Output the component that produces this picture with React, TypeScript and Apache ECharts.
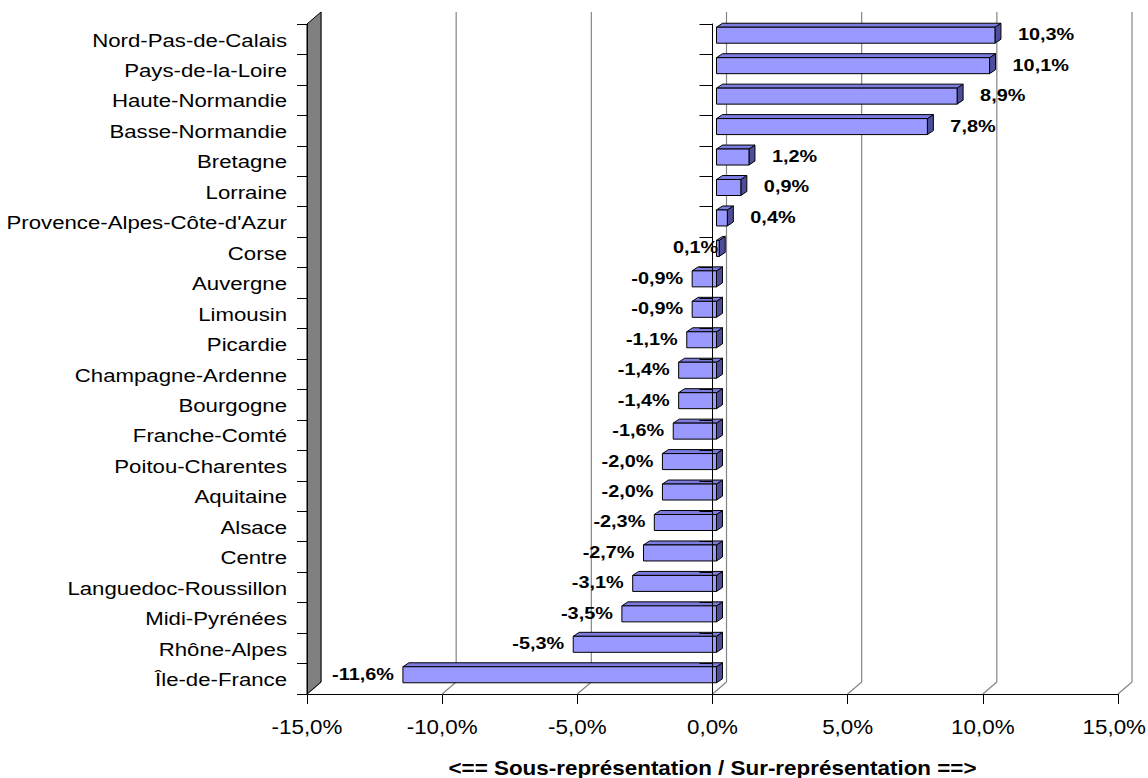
import React, { useEffect, useRef } from "react";
import * as echarts from "echarts";

const categories: string[] = [
  "Nord-Pas-de-Calais",
  "Pays-de-la-Loire",
  "Haute-Normandie",
  "Basse-Normandie",
  "Bretagne",
  "Lorraine",
  "Provence-Alpes-Côte-d'Azur",
  "Corse",
  "Auvergne",
  "Limousin",
  "Picardie",
  "Champagne-Ardenne",
  "Bourgogne",
  "Franche-Comté",
  "Poitou-Charentes",
  "Aquitaine",
  "Alsace",
  "Centre",
  "Languedoc-Roussillon",
  "Midi-Pyrénées",
  "Rhône-Alpes",
  "Île-de-France",
];

const values: number[] = [
  10.3, 10.1, 8.9, 7.8, 1.2, 0.9, 0.4, 0.1, -0.9, -0.9, -1.1, -1.4, -1.4, -1.6,
  -2.0, -2.0, -2.3, -2.7, -3.1, -3.5, -5.3, -11.6,
];

const xTicks: number[] = [-15, -10, -5, 0, 5, 10, 15];

const axisTitle = "<== Sous-représentation / Sur-représentation ==>";

// depth of the 3D box (pixels) and of the bars
const DX = 14;
const DY = -12;
const BX = 4;
const BY = -4;
const BDX = 6;
const BDY = -4;
const BH = 16;
// the original picture is stretched horizontally
const STRETCH = 1.18;

const fmt = (v: number) => v.toFixed(1).replace(".", ",") + "%";

const FONT = '"Liberation Sans", Arial, sans-serif';

export default function App() {
  const ref = useRef<HTMLDivElement>(null);

  useEffect(() => {
    if (!ref.current) return;
    const chart = echarts.init(ref.current, null, { renderer: "svg" });
    const last = categories.length - 1;
    const maxTick = xTicks[xTicks.length - 1];

    const stretchedText = (
      x: number,
      y: number,
      text: string,
      align: string,
      size: number,
      bold: boolean,
      sx: number = STRETCH
    ) => ({
      type: "text",
      x,
      y,
      scaleX: sx,
      z2: 20,
      style: {
        text,
        x: 0,
        y: 0,
        align,
        verticalAlign: "middle",
        fontFamily: FONT,
        fontWeight: bold ? "bold" : "normal",
        fontSize: size,
        fill: "#000",
      },
    });

    const option: any = {
      animation: false,
      backgroundColor: "#ffffff",
      grid: { left: 307, right: 30, top: 24, bottom: 84, containLabel: false },
      xAxis: {
        type: "value",
        min: -15,
        max: 15,
        interval: 5,
        axisLine: { show: true, onZero: false, lineStyle: { color: "#000", width: 1 } },
        axisTick: { show: true, length: 10, lineStyle: { color: "#000" } },
        splitLine: { show: false },
        axisLabel: { show: false },
      },
      yAxis: [
        {
          type: "category",
          data: categories,
          inverse: true,
          position: "left",
          axisLine: { show: true, onZero: false, lineStyle: { color: "#000" } },
          axisTick: { show: true, length: 10, lineStyle: { color: "#000" } },
          axisLabel: { show: false },
          splitLine: { show: false },
          z: 6,
        },
        {
          type: "category",
          data: categories,
          inverse: true,
          position: "left",
          axisLine: { show: true, onZero: true, lineStyle: { color: "#000" } },
          axisTick: { show: true, length: 13, lineStyle: { color: "#000" } },
          axisLabel: { show: false },
          splitLine: { show: false },
          z: 10,
        },
      ],
      series: [
        {
          type: "custom",
          name: "frame",
          z: 1,
          silent: true,
          data: xTicks.map((t) => [t, 0]),
          encode: { x: 0, y: 1 },
          renderItem: (params: any, api: any) => {
            const v = api.value(0);
            const band = api.size([0, 1])[1];
            const pTop = api.coord([v, 0]);
            const pBot = api.coord([v, last]);
            const x = pTop[0];
            const top = pTop[1] - band / 2;
            const bot = pBot[1] + band / 2;
            const children: any[] = [
              {
                type: "line",
                shape: { x1: x + DX, y1: top + DY, x2: x + DX, y2: bot + DY },
                style: { stroke: "#858585", lineWidth: 1.2 },
              },
              {
                type: "line",
                shape: { x1: x, y1: bot, x2: x + DX, y2: bot + DY },
                style: { stroke: "#858585", lineWidth: 1.2 },
              },
              // tick label (the last one is kept inside the page)
              v === maxTick
                ? stretchedText(x + 28, bot + 33, fmt(v), "right", 19.3, false, 1.16)
                : stretchedText(x, bot + 33, fmt(v), "center", 19.3, false, 1.16),
            ];
            if (params.dataIndex === 0) {
              children.push({
                type: "polygon",
                shape: {
                  points: [
                    [x, top],
                    [x + DX, top + DY],
                    [x + DX, bot + DY],
                    [x, bot],
                  ],
                },
                style: { fill: "#808080", stroke: "#000", lineWidth: 1 },
              });
            }
            if (v === 0) {
              // axis title, centred on the zero of the value axis
              children.push(
                stretchedText(x, bot + 74, axisTitle, "center", 19.5, true, 1.15)
              );
            }
            return { type: "group", children };
          },
        },
        {
          type: "custom",
          name: "categoryLabels",
          z: 2,
          silent: true,
          data: categories.map((_, i) => [-15, i]),
          encode: { x: 0, y: 1 },
          renderItem: (params: any, api: any) => {
            const i = api.value(1);
            const p = api.coord([api.value(0), i]);
            return stretchedText(
              p[0] - 20,
              p[1] + 1,
              categories[params.dataIndex],
              "right",
              18.5,
              false,
              1.2
            );
          },
        },
        {
          type: "custom",
          name: "bars",
          z: 3,
          data: values.map((v, i) => [v, i]),
          encode: { x: 0, y: 1 },
          renderItem: (params: any, api: any) => {
            const v = api.value(0);
            const i = api.value(1);
            const z0 = api.coord([0, i]);
            const e = api.coord([v, i]);
            const cy = z0[1] + BY;
            const xl = Math.min(z0[0], e[0]) + BX;
            const xr = Math.max(z0[0], e[0]) + BX;
            const yt = cy - BH / 2;
            const yb = cy + BH / 2;
            const stroke = { stroke: "#000", lineWidth: 1 };
            let lx: number;
            let align: string;
            if (v > 0.2) {
              lx = xr + 23;
              align = "left";
            } else if (v < 0) {
              lx = xl - 9;
              align = "right";
            } else {
              lx = xr - 1;
              align = "right";
            }
            return {
              type: "group",
              children: [
                {
                  type: "polygon",
                  shape: {
                    points: [
                      [xr, yt],
                      [xr + BDX, yt + BDY],
                      [xr + BDX, yb + BDY],
                      [xr, yb],
                    ],
                  },
                  style: { fill: "#4d4d99", ...stroke },
                },
                {
                  type: "polygon",
                  shape: {
                    points: [
                      [xl, yt],
                      [xl + BDX, yt + BDY],
                      [xr + BDX, yt + BDY],
                      [xr, yt],
                    ],
                  },
                  style: { fill: "#7b7be0", ...stroke },
                },
                {
                  type: "rect",
                  shape: { x: xl, y: yt, width: xr - xl, height: BH },
                  style: { fill: "#9999ff", ...stroke },
                },
                stretchedText(lx, z0[1] - 5, fmt(v), align, 16.7, true, 1.19),
              ],
            };
          },
        },
      ],
    };

    chart.setOption(option);
    return () => chart.dispose();
  }, []);

  return (
    <div
      ref={ref}
      style={{
        position: "absolute",
        left: 0,
        top: 0,
        width: 1148,
        height: 778,
        background: "#fff",
      }}
    />
  );
}
